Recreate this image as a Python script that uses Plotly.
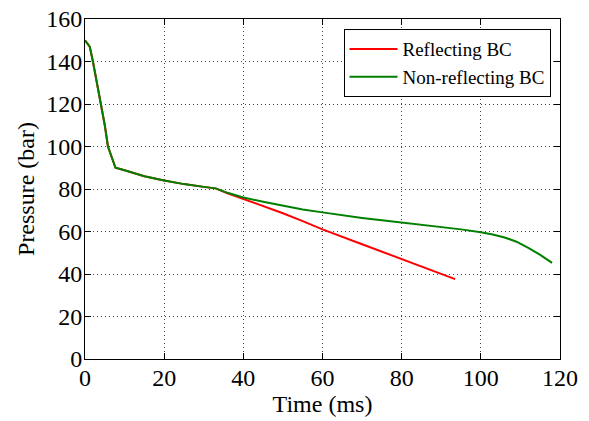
import plotly.graph_objects as go

# Pressure history at the monitor point (time in ms, pressure in bar)
shared_t = [0, 1.2, 2.0, 3.0, 4.1, 5.0, 5.8, 6.8, 7.7, 10, 15, 20, 25, 30, 33]
shared_p = [150, 147, 140, 130, 120, 110, 100, 94.5, 90, 88.8, 86, 84, 82.3, 81, 80.3]

refl_t = [36, 40, 45, 50, 55, 60, 70, 80, 90, 93.5]
refl_p = [78.0, 75.4, 72.2, 68.6, 64.9, 61.0, 54.0, 47.1, 40.1, 37.6]

nonrefl_t = [36, 40, 45, 50, 55, 60, 65, 70, 75, 80, 85, 90, 95, 100,
             103, 106, 109, 112, 115, 118]
nonrefl_p = [78.2, 76.0, 74.0, 72.2, 70.4, 69.0, 67.6, 66.4, 65.3, 64.3,
             63.2, 62.0, 61.0, 59.6, 58.6, 57.2, 55.2, 52.3, 49.0, 45.2]

x_ticks = [0, 20, 40, 60, 80, 100, 120]
y_ticks = [0, 20, 40, 60, 80, 100, 120, 140, 160]

SERIF = "Liberation Serif"

fig = go.Figure()
fig.add_trace(go.Scatter(
    x=shared_t + refl_t, y=shared_p + refl_p, mode="lines",
    name="Reflecting BC", line=dict(color="#ff0000", width=2)))
fig.add_trace(go.Scatter(
    x=shared_t + nonrefl_t, y=shared_p + nonrefl_p, mode="lines",
    name="Non-reflecting BC", line=dict(color="#008000", width=2)))

axis_common = dict(
    showline=True, linecolor="black", linewidth=1, mirror="allticks",
    ticks="inside", ticklen=6, tickcolor="black", tickwidth=1,
    showgrid=True, gridcolor="#444444", griddash="1px,3px", gridwidth=1,
    zeroline=False, automargin=False, ticklabelstandoff=-3,
    tickfont=dict(family=SERIF, size=24, color="black"),
)

fig.update_xaxes(range=[0, 120], tickvals=x_ticks,
                 title=dict(text="Time (ms)",
                            font=dict(family=SERIF, size=24, color="black"),
                            standoff=0),
                 **axis_common)
fig.update_yaxes(range=[0, 160], tickvals=y_ticks,
                 title=dict(text="Pressure (bar)",
                            font=dict(family=SERIF, size=24, color="black"),
                            standoff=4),
                 **axis_common)

fig.update_layout(
    width=589, height=421,
    margin=dict(l=85, r=29, t=19, b=62),
    paper_bgcolor="white", plot_bgcolor="white",
    font=dict(family=SERIF, color="black"),
    legend=dict(x=0.98, y=0.97, xanchor="right", yanchor="top",
                bordercolor="black", borderwidth=1, bgcolor="white",
                itemwidth=48,
                font=dict(family=SERIF, size=19), tracegroupgap=0),
    showlegend=True,
)

fig.write_html("out.html")
